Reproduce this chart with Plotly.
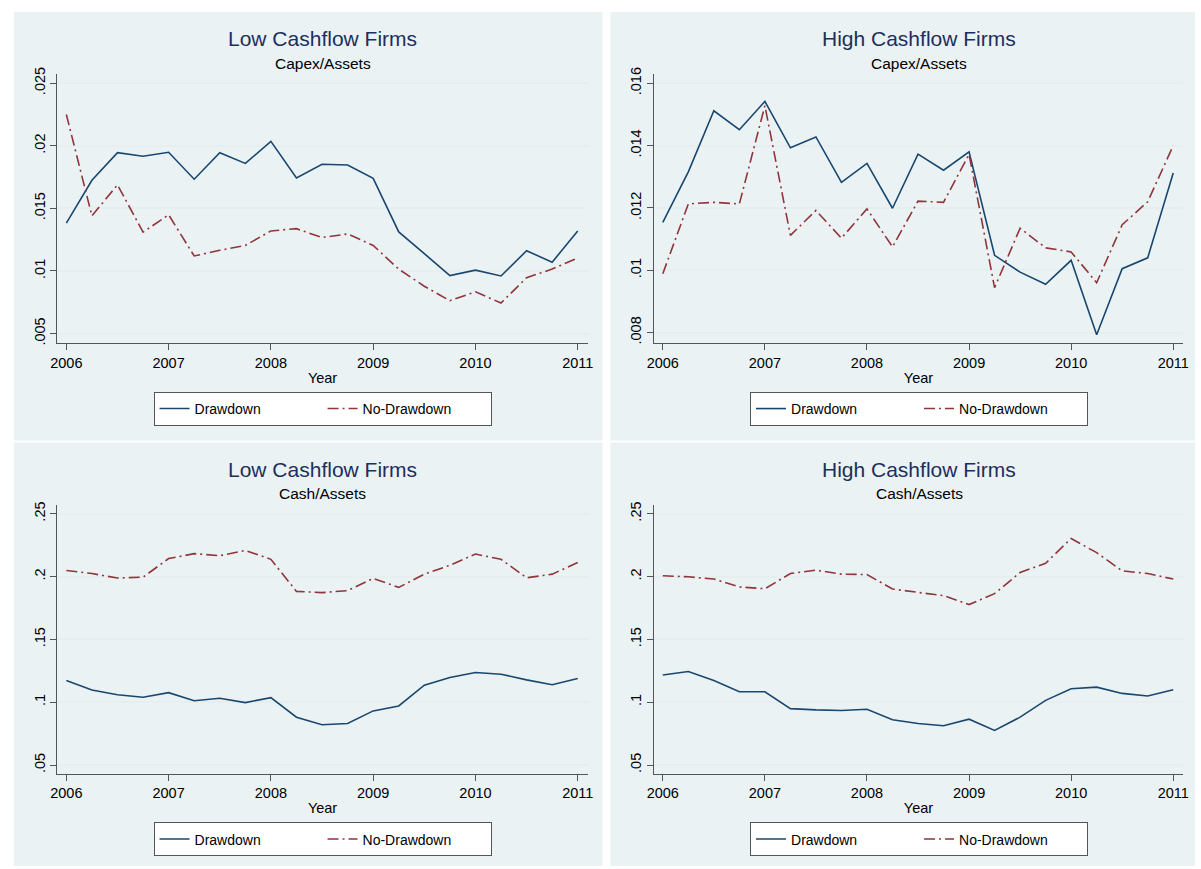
import plotly.graph_objects as go

W, H = 1201, 869

# ---------------- data ----------------
quarters = [2006.0, 2006.25, 2006.5, 2006.75, 2007.0, 2007.25, 2007.5, 2007.75,
            2008.0, 2008.25, 2008.5, 2008.75, 2009.0, 2009.25, 2009.5, 2009.75,
            2010.0, 2010.25, 2010.5, 2010.75, 2011.0]

low_capex_draw = [0.01383, 0.01725, 0.01945, 0.01917, 0.01948, 0.01733, 0.01945, 0.01859,
                  0.02035, 0.01743, 0.01853, 0.01846, 0.01740, 0.01312, 0.01139, 0.00963,
                  0.01007, 0.00960, 0.01162, 0.01070, 0.01320]
low_capex_nodraw = [0.02250, 0.01440, 0.01688, 0.01310, 0.01449, 0.01120, 0.01165, 0.01204,
                    0.01320, 0.01338, 0.01267, 0.01296, 0.01204, 0.01015, 0.00878, 0.00763,
                    0.00834, 0.00744, 0.00947, 0.01015, 0.01104]

high_capex_draw = [0.01154, 0.01316, 0.01512, 0.01451, 0.01542, 0.01393, 0.01428, 0.01282,
                   0.01343, 0.01199, 0.01373, 0.01321, 0.01380, 0.01048, 0.00994, 0.00955,
                   0.01032, 0.00793, 0.01005, 0.01040, 0.01312]
high_capex_nodraw = [0.00989, 0.01213, 0.01218, 0.01213, 0.01528, 0.01112, 0.01192, 0.01103,
                     0.01197, 0.01075, 0.01222, 0.01218, 0.01372, 0.00944, 0.01135, 0.01072,
                     0.01059, 0.00960, 0.01146, 0.01220, 0.01400]

low_cash_draw = [0.1173, 0.1097, 0.1060, 0.1039, 0.1076, 0.1012, 0.1031, 0.0997,
                 0.1036, 0.0881, 0.0821, 0.0831, 0.0931, 0.0970, 0.1136, 0.1196,
                 0.1236, 0.1223, 0.1178, 0.1139, 0.1189]
low_cash_nodraw = [0.2048, 0.2024, 0.1988, 0.1995, 0.2143, 0.2182, 0.2166, 0.2208,
                   0.2137, 0.1882, 0.1872, 0.1888, 0.1985, 0.1914, 0.2019, 0.2090,
                   0.2179, 0.2137, 0.1990, 0.2019, 0.2111]

high_cash_draw = [0.1217, 0.1244, 0.1173, 0.1083, 0.1083, 0.0949, 0.0939, 0.0934,
                  0.0944, 0.0860, 0.0831, 0.0813, 0.0865, 0.0776, 0.0881, 0.1015,
                  0.1107, 0.1120, 0.1070, 0.1049, 0.1099]
high_cash_nodraw = [0.2006, 0.1998, 0.1980, 0.1917, 0.1903, 0.2024, 0.2051, 0.2019,
                    0.2016, 0.1901, 0.1874, 0.1848, 0.1777, 0.1864, 0.2032, 0.2106,
                    0.2303, 0.2190, 0.2045, 0.2024, 0.1980]

x_ticks = [2006, 2007, 2008, 2009, 2010, 2011]
x_ticklabels = ["2006", "2007", "2008", "2009", "2010", "2011"]

low_capex_yticks = [0.005, 0.01, 0.015, 0.02, 0.025]
low_capex_ylabels = [".005", ".01", ".015", ".02", ".025"]
high_capex_yticks = [0.008, 0.01, 0.012, 0.014, 0.016]
high_capex_ylabels = [".008", ".01", ".012", ".014", ".016"]
cash_yticks = [0.05, 0.1, 0.15, 0.2, 0.25]
cash_ylabels = [".05", ".1", ".15", ".2", ".25"]

panel_titles = ["Low Cashflow Firms", "High Cashflow Firms", "Low Cashflow Firms", "High Cashflow Firms"]
panel_subtitles = ["Capex/Assets", "Capex/Assets", "Cash/Assets", "Cash/Assets"]
series_names = ["Drawdown", "No-Drawdown"]

# ---------------- styling ----------------
FONT = "Liberation Sans, Arial, Helvetica, sans-serif"
BLUE = "#1A476F"
RED = "#90353B"
PANEL_BG = "#EAF2F3"
GRID = "#E6EEF0"
AXIS = "#555555"
TITLE_C = "#1C2F5E"

def px_x(p):
    return p / W

def px_y(p):
    return 1 - p / H

# panel geometry in pixels: (panel box, plot box)
panels = [
    dict(box=(7, 5, 602, 438), plot=(51, 68, 587, 340), cx=319),
    dict(box=(610, 5, 1201, 438), plot=(654, 68, 1189, 340), cx=922),
    dict(box=(7, 440, 602, 868), plot=(51, 503, 587, 775), cx=319),
    dict(box=(610, 440, 1201, 868), plot=(654, 503, 1189, 775), cx=922),
]

yranges = [
    [0.00421, 0.02571],
    [0.00765, 0.01629],
    [0.0429, 0.2571],
    [0.0429, 0.2571],
]
ytickvals = [low_capex_yticks, high_capex_yticks, cash_yticks, cash_yticks]
yticktexts = [low_capex_ylabels, high_capex_ylabels, cash_ylabels, cash_ylabels]
series = [
    (low_capex_draw, low_capex_nodraw),
    (high_capex_draw, high_capex_nodraw),
    (low_cash_draw, low_cash_nodraw),
    (high_cash_draw, high_cash_nodraw),
]

fig = go.Figure()
layout = dict(
    width=W, height=H,
    margin=dict(l=0, r=0, t=0, b=0),
    paper_bgcolor="white",
    plot_bgcolor="white",
    font=dict(family=FONT, size=14, color="black"),
    shapes=[], annotations=[],
)

for i, p in enumerate(panels):
    n = "" if i == 0 else str(i + 1)
    xa, ya = "x" + n, "y" + n
    lg = "legend" + n
    d, nd = series[i]
    fig.add_trace(go.Scatter(x=quarters, y=d, mode="lines", name=series_names[0],
                             line=dict(color=BLUE, width=1.6),
                             xaxis=xa, yaxis=ya, legend=lg))
    fig.add_trace(go.Scatter(x=quarters, y=nd, mode="lines", name=series_names[1],
                             line=dict(color=RED, width=1.6, dash="11px,4px,2px,4px"),
                             xaxis=xa, yaxis=ya, legend=lg))

    x0, y0, x1, y1 = p["plot"]
    layout["xaxis" + n] = dict(
        domain=[px_x(x0), px_x(x1)], anchor=ya,
        range=[2005.913, 2011.097],
        tickvals=x_ticks, ticktext=x_ticklabels,
        ticks="outside", ticklen=6, tickcolor=AXIS, tickwidth=1,
        showline=True, linecolor=AXIS, linewidth=1,
        showgrid=False, zeroline=False,
        tickfont=dict(size=14.5, family=FONT, color="black"),
        title=dict(text="Year", font=dict(size=14.5, family=FONT, color="black"), standoff=2),
    )
    layout["yaxis" + n] = dict(
        domain=[px_y(y1), px_y(y0)], anchor=xa,
        range=yranges[i],
        tickvals=ytickvals[i], ticktext=yticktexts[i],
        tickangle=-90,
        ticks="outside", ticklen=6, tickcolor=AXIS, tickwidth=1,
        showline=True, linecolor=AXIS, linewidth=1,
        showgrid=True, gridcolor=GRID, gridwidth=1.5,
        zeroline=False,
        tickfont=dict(size=14.5, family=FONT, color="black"),
    )

    bx0, by0, bx1, by1 = p["box"]
    layout["shapes"].append(dict(type="rect", xref="paper", yref="paper",
                                 x0=px_x(bx0), x1=px_x(bx1), y0=px_y(by1), y1=px_y(by0),
                                 fillcolor=PANEL_BG, line=dict(width=0), layer="below"))
    layout["annotations"].append(dict(
        text=panel_titles[i], xref="paper", yref="paper",
        x=px_x(p["cx"]), y=px_y(by0 - 5 + 32), xanchor="center", yanchor="middle",
        showarrow=False, font=dict(size=21, family=FONT, color=TITLE_C)))
    layout["annotations"].append(dict(
        text=panel_subtitles[i], xref="paper", yref="paper",
        x=px_x(p["cx"]), y=px_y(by0 - 5 + 57), xanchor="center", yanchor="middle",
        showarrow=False, font=dict(size=15.5, family=FONT, color="black")))

    layout[lg] = dict(
        orientation="h", x=px_x(p["cx"]), xanchor="center",
        y=px_y(by0 - 5 + 389), yanchor="top",
        bgcolor="white", bordercolor=AXIS, borderwidth=1,
        entrywidth=123, entrywidthmode="pixels",
        font=dict(size=14, family=FONT, color="black"),
    )

fig.update_layout(**layout)
fig.write_html("out.html",
               config={"displayModeBar": False},
               post_script="document.body.style.margin='0px';document.body.style.padding='0px';")
